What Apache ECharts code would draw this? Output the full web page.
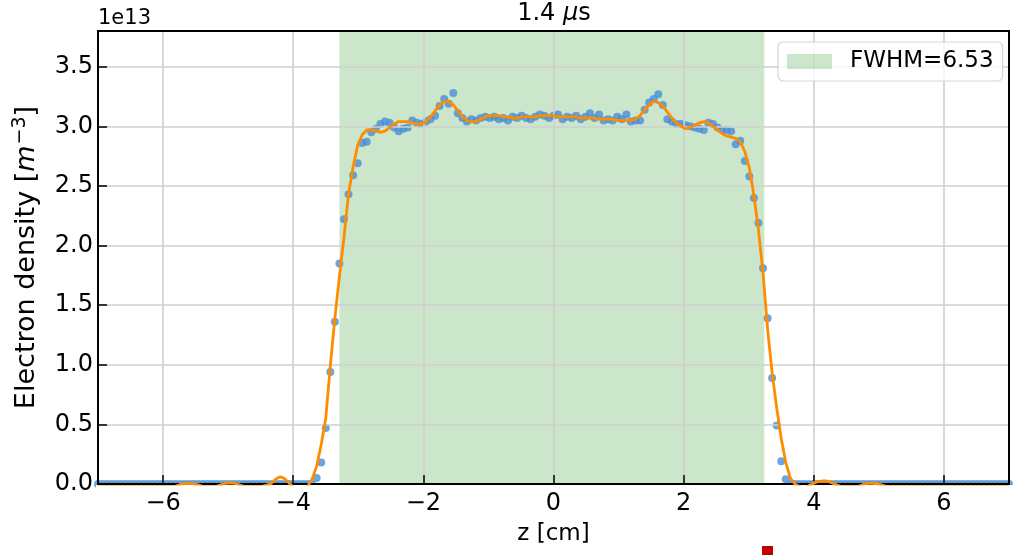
<!DOCTYPE html>
<html>
<head>
<meta charset="utf-8">
<title>Electron density 1.4 us</title>
<script src="https://cdn.jsdelivr.net/npm/echarts@6/dist/echarts.min.js"></script>
<style>
  html, body { margin: 0; padding: 0; background: #fff; }
  #chart { width: 1025px; height: 555px; }
</style>
</head>
<body>
<div id="chart"></div>
<script>
// z positions [cm]
const zValues = [
  -7.00, -6.93, -6.86, -6.79, -6.72, -6.65, -6.58, -6.51, -6.44, -6.37,
  -6.30, -6.23, -6.16, -6.09, -6.02, -5.95, -5.88, -5.81, -5.74, -5.67,
  -5.60, -5.53, -5.46, -5.39, -5.32, -5.25, -5.18, -5.11, -5.04, -4.97,
  -4.90, -4.83, -4.76, -4.69, -4.62, -4.55, -4.48, -4.41, -4.34, -4.27,
  -4.20, -4.13, -4.06, -3.99, -3.92, -3.85, -3.78, -3.71, -3.64, -3.57,
  -3.50, -3.43, -3.36, -3.29, -3.22, -3.15, -3.08, -3.01, -2.94, -2.87,
  -2.80, -2.73, -2.66, -2.59, -2.52, -2.45, -2.38, -2.31, -2.24, -2.17,
  -2.10, -2.03, -1.96, -1.89, -1.82, -1.75, -1.68, -1.61, -1.54, -1.47,
  -1.40, -1.33, -1.26, -1.19, -1.12, -1.05, -0.98, -0.91, -0.84, -0.77,
  -0.70, -0.63, -0.56, -0.49, -0.42, -0.35, -0.28, -0.21, -0.14, -0.07,
  0.00, 0.07, 0.14, 0.21, 0.28, 0.35, 0.42, 0.49, 0.56, 0.63,
  0.70, 0.77, 0.84, 0.91, 0.98, 1.05, 1.12, 1.19, 1.26, 1.33,
  1.40, 1.47, 1.54, 1.61, 1.68, 1.75, 1.82, 1.89, 1.96, 2.03,
  2.10, 2.17, 2.24, 2.31, 2.38, 2.45, 2.52, 2.59, 2.66, 2.73,
  2.80, 2.87, 2.94, 3.01, 3.08, 3.15, 3.22, 3.29, 3.36, 3.43,
  3.50, 3.57, 3.64, 3.71, 3.78, 3.85, 3.92, 3.99, 4.06, 4.13,
  4.20, 4.27, 4.34, 4.41, 4.48, 4.55, 4.62, 4.69, 4.76, 4.83,
  4.90, 4.97, 5.04, 5.11, 5.18, 5.25, 5.32, 5.39, 5.46, 5.53,
  5.60, 5.67, 5.74, 5.81, 5.88, 5.95, 6.02, 6.09, 6.16, 6.23,
  6.30, 6.37, 6.44, 6.51, 6.58, 6.65, 6.72, 6.79, 6.86, 6.93,
  7.00
]

// measured density, units of 1e13 m^-3
const densityE13 = [
  0, 0, 0, 0, 0, 0, 0, 0, 0, 0,
  0, 0, 0, 0, 0, 0, 0, 0, 0, 0,
  0, 0, 0, 0, 0, 0, 0, 0, 0, 0,
  0, 0, 0, 0, 0, 0, 0, 0, 0, 0,
  0, 0, 0, 0, 0, 0, 0, 0, 0.05, 0.18,
  0.47, 0.94, 1.36, 1.85, 2.22, 2.43, 2.59, 2.69, 2.86, 2.87,
  2.95, 2.98, 3.02, 3.04, 3.03, 2.99, 2.96, 2.98, 2.99, 3.05,
  3.03, 3.02, 3.04, 3.06, 3.09, 3.17, 3.23, 3.19, 3.28, 3.11,
  3.07, 3.04, 3.06, 3.05, 3.07, 3.08, 3.07, 3.08, 3.06, 3.07,
  3.05, 3.08, 3.07, 3.09, 3.07, 3.06, 3.08, 3.10, 3.09, 3.07,
  3.09, 3.10, 3.06, 3.08, 3.07, 3.09, 3.06, 3.08, 3.11, 3.07,
  3.10, 3.05, 3.06, 3.05, 3.08, 3.06, 3.10, 3.04, 3.05, 3.05,
  3.14, 3.20, 3.23, 3.27, 3.18, 3.06, 3.04, 3.02, 3.02, 3.01,
  3.00, 2.99, 2.98, 2.97, 3.03, 3.02, 2.99, 2.97, 2.97, 2.96,
  2.85, 2.88, 2.71, 2.58, 2.40, 2.19, 1.81, 1.39, 0.89, 0.49,
  0.19, 0.04, 0, 0, 0, 0, 0, 0, 0, 0,
  0, 0, 0, 0, 0, 0, 0, 0, 0, 0,
  0, 0, 0, 0, 0, 0, 0, 0, 0, 0,
  0, 0, 0, 0, 0, 0, 0, 0, 0, 0,
  0, 0, 0, 0, 0, 0, 0, 0, 0, 0,
  0
]

// fitted curve, units of 1e13 m^-3
const fitE13 = [
  -0.02, -0.02, -0.02, -0.02, -0.02, -0.02, -0.02, -0.02, -0.02, -0.02,
  -0.02, -0.02, -0.02, -0.02, -0.02, -0.02, -0.02, -0.02, -0.004, 0.004,
  0.006, 0.002, -0.008, -0.02, -0.02, -0.02, -0.02, -0.006, 0.006, 0.01,
  0.006, -0.006, -0.02, -0.02, -0.02, -0.02, -0.02, -0.01, 0.005, 0.04,
  0.06, 0.045, 0.005, -0.03, -0.05, -0.05, -0.02, 0.04, 0.15, 0.33,
  0.55, 0.99, 1.39, 1.74, 2.07, 2.43, 2.66, 2.84, 2.93, 2.97,
  2.97, 2.96, 2.95, 2.96, 2.99, 3.02, 3.04, 3.04, 3.04, 3.03,
  3.02, 3.02, 3.04, 3.08, 3.13, 3.18, 3.21, 3.21, 3.18, 3.13,
  3.08, 3.05, 3.04, 3.04, 3.06, 3.08, 3.09, 3.09, 3.09, 3.08,
  3.08, 3.07, 3.07, 3.08, 3.08, 3.08, 3.08, 3.09, 3.09, 3.09,
  3.09, 3.08, 3.08, 3.08, 3.08, 3.08, 3.07, 3.07, 3.07, 3.07,
  3.06, 3.06, 3.06, 3.06, 3.05, 3.05, 3.05, 3.05, 3.06, 3.09,
  3.14, 3.18, 3.21, 3.20, 3.17, 3.12, 3.07, 3.03, 3.00, 2.98,
  2.99, 3.01, 3.03, 3.04, 3.03, 3.00, 2.97, 2.94, 2.92, 2.91,
  2.90, 2.87, 2.79, 2.65, 2.42, 2.13, 1.77, 1.30, 0.93, 0.64,
  0.38, 0.18, 0.05, 0.0, -0.02, -0.03, -0.015, 0.005, 0.02, 0.025,
  0.025, 0.012, -0.005, -0.02, -0.02, -0.02, -0.02, -0.02, -0.004, 0.005,
  0.006, 0.002, -0.008, -0.02, -0.02, -0.02, -0.02, -0.02, -0.02, -0.02,
  -0.02, -0.02, -0.02, -0.02, -0.02, -0.02, -0.02, -0.02, -0.02, -0.02,
  -0.02, -0.02, -0.02, -0.02, -0.02, -0.02, -0.02, -0.02, -0.02, -0.02,
  -0.02
]

// FWHM band edges [cm]
const fwhmRange = [-3.29, 3.24]
const fwhmLabel = 'FWHM=6.53'

const font = 'DejaVu Sans'
const band = 'rgba(0,128,0,0.2)'

const chart = echarts.init(document.getElementById('chart'))

chart.setOption({
  animation: false,
  title: [
    {
      text: '{n|1.4 }{i|μ}{n|s}',
      left: 554,
      top: 2,
      textAlign: 'center',
      padding: 0,
      textStyle: {
        fontWeight: 'normal',
        rich: {
          n: { fontSize: 24, fontFamily: font, fontWeight: 'normal', color: '#000' },
          i: { fontSize: 24, fontFamily: font, fontWeight: 'normal', fontStyle: 'italic', color: '#000' }
        }
      }
    },
    {
      text: '1e13',
      left: 98,
      top: 8,
      padding: 0,
      textStyle: { fontSize: 21, fontFamily: font, fontWeight: 'normal', color: '#000' }
    }
  ],
  legend: {
    data: [fwhmLabel],
    left: 778,
    top: 42,
    z: 20,
    icon: 'rect',
    itemWidth: 45,
    itemHeight: 15,
    selectedMode: false,
    padding: [8, 9, 8, 9],
    backgroundColor: 'rgba(255,255,255,0.8)',
    borderColor: '#d5d5d5',
    borderWidth: 1.2,
    borderRadius: 5,
    textStyle: { fontSize: 23, fontFamily: font, color: '#000', padding: [0, 0, 0, 13] }
  },
  grid: {
    left: 98,
    right: 16,
    top: 31,
    bottom: 71,
    show: true,
    z: 11,
    backgroundColor: 'transparent',
    borderColor: '#000',
    borderWidth: 2
  },
  xAxis: {
    type: 'value',
    min: -7,
    max: 7,
    splitNumber: 7,
    z: 10,
    name: 'z [cm]',
    nameLocation: 'middle',
    nameGap: 39,
    nameTextStyle: { fontSize: 23, fontFamily: font, color: '#000' },
    axisLine: { show: true, onZero: false, lineStyle: { color: '#000', width: 2 } },
    axisTick: { inside: true, length: 9, lineStyle: { color: '#000', width: 1.5 } },
    axisLabel: {
      fontSize: 24,
      fontFamily: font,
      color: '#000',
      margin: 8,
      showMinLabel: false,
      showMaxLabel: false,
      formatter: v => String(v).replace('-', '\u2212')
    },
    splitLine: { show: true, lineStyle: { color: '#cfcfcf', width: 1.6 } }
  },
  yAxis: {
    type: 'value',
    min: 0,
    max: 3.8,
    interval: 0.5,
    z: 10,
    name: '{a|Electron density [}{i|m}{s|\u22123}{a|]}',
    nameLocation: 'middle',
    nameRotate: 90,
    nameGap: 49,
    nameTextStyle: {
      rich: {
        a: { fontSize: 27, fontFamily: font, color: '#000', lineHeight: 32 },
        i: { fontSize: 27, fontFamily: font, fontStyle: 'italic', color: '#000', lineHeight: 32 },
        s: { fontSize: 19, fontFamily: font, color: '#000', verticalAlign: 'top', lineHeight: 32, padding: [0, 0, 14, 1] }
      }
    },
    axisLine: { show: true, onZero: false, lineStyle: { color: '#000', width: 2 } },
    axisTick: { inside: true, length: 9, lineStyle: { color: '#000', width: 1.5 } },
    axisLabel: {
      fontSize: 24,
      fontFamily: font,
      color: '#000',
      margin: 5,
      showMaxLabel: false,
      formatter: v => v.toFixed(1)
    },
    splitLine: { show: true, lineStyle: { color: '#cfcfcf', width: 1.6 } }
  },
  graphic: [
    // hides the lower half of the dots sitting on the axis, like the axes clip
    { type: 'rect', z: 5, silent: true, shape: { x: 96, y: 485, width: 918, height: 7 }, style: { fill: '#fff' } },
    { type: 'rect', z: 5, silent: true, shape: { x: 762, y: 546, width: 11, height: 9 }, style: { fill: '#c00000' } }
  ],
  series: [
    {
      name: fwhmLabel,
      type: 'line',
      data: [],
      z: 1,
      itemStyle: { color: band },
      lineStyle: { color: band },
      markArea: {
        silent: true,
        itemStyle: { color: band },
        data: [[{ xAxis: fwhmRange[0] }, { xAxis: fwhmRange[1] }]]
      }
    },
    {
      name: 'data',
      type: 'scatter',
      z: 2,
      symbolSize: 8,
      itemStyle: { color: '#4a8fd6' },
      data: zValues.map((z, i) => [z, densityE13[i]])
    },
    {
      name: 'fit',
      type: 'line',
      z: 12,
      showSymbol: false,
      clip: true,
      lineStyle: { color: '#ff8c00', width: 2.8 },
      data: zValues.map((z, i) => [z, fitE13[i]])
    }
  ]
})
</script>
</body>
</html>
